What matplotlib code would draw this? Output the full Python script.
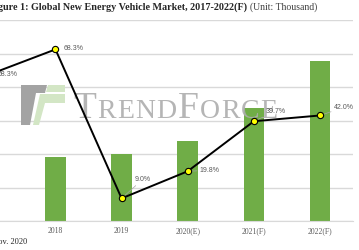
import matplotlib.pyplot as plt
from matplotlib.patches import Polygon

# Global NEV market, thousand units, plus yearly growth
years = ['2017', '2018', '2019', '2020(E)', '2021(F)', '2022(F)']
sales = [1200, 1910, 2010, 2390, 3370, 4780]
growth = [58.3, 68.3, 9.0, 19.8, 39.7, 42.0]

GREEN = '#70AD47'
GRID = '#D9D9D9'
LABEL = '#595959'

fig = plt.figure(figsize=(3.59, 2.5), dpi=100)
W, H = 359, 250


def px(x, y):
    # pixel (from top-left) -> figure fraction
    return x / W, 1 - y / H


# axes reaches past the left edge, like the cropped original
left, bottom = px(-43.7, 221)
right, top = px(353, 20)
ax = fig.add_axes([left, bottom, right - left, top - bottom])
xs = list(range(len(years)))
ax.bar(xs, sales, width=0.31, color=GREEN, zorder=2)
ax.set_xlim(-0.5, 5.5)
ax.set_ylim(0, 6000)
ax.set_yticks(range(0, 6001, 1000))
ax.yaxis.grid(True, color=GRID, lw=1, zorder=0)
ax.set_axisbelow(True)
ax.set_xticks(xs)
ax.set_xticklabels(years, fontfamily='Liberation Serif', fontsize=5.5, color=LABEL)
ax.get_xticklabels()[0].set_visible(False)  # lies off the picture anyway
ax.tick_params(axis='x', length=0, pad=4.3)
ax.tick_params(axis='y', left=False, labelleft=False)
for s in ['top', 'right', 'left']:
    ax.spines[s].set_visible(False)
ax.spines['bottom'].set_color(GRID)

# watermark logo
logo_gray = [(21, 85), (47, 85), (45, 93), (36, 93), (30, 125), (21, 125)]
logo_top = [(48, 85), (65, 85), (65, 92), (46, 92)]
logo_body = [(40, 94), (65, 94), (65, 103), (45, 103), (39, 125), (33, 125)]
for pts, col in [(logo_gray, '#A3A3A3'), (logo_top, '#D3E6C5'), (logo_body, '#D3E6C5')]:
    fig.add_artist(Polygon([px(*p) for p in pts], closed=True,
                           transform=fig.transFigure, color=col, lw=0, zorder=3))

# watermark text, letter by letter (small caps look)
fig.canvas.draw()
renderer = fig.canvas.get_renderer()
cur_x = 73
for ch, size in zip('TRENDFORCE', [27, 20, 20, 20, 20, 27, 20, 20, 20, 20]):
    t = fig.text(*px(cur_x, 118), ch, fontfamily='Liberation Serif', fontsize=size,
                 color='#ADADAD', alpha=0.9, va='baseline', ha='left', zorder=3)
    cur_x = t.get_window_extent(renderer).x1 + 1.2

# growth line on a secondary axis, drawn above the watermark
ax2 = ax.twinx()
ax2.set_zorder(5)
ax2.set_ylim(0, 80)
ax2.set_axis_off()
ax2.plot(xs, growth, color='black', lw=1.4, marker='o', markersize=4.5,
         markerfacecolor='#FFFF00', markeredgecolor='black', markeredgewidth=0.8, zorder=5)

offsets = [(5.8, 0), (5.8, 0.7), (9.4, 13.7), (8.6, 0.7), (8.6, 7.2), (10, 5.8)]
leaders = [False, False, True, True, True, True]
for x, g, off, lead in zip(xs, growth, offsets, leaders):
    props = dict(arrowstyle='-', color='#A6A6A6', lw=0.5, shrinkA=0, shrinkB=3) if lead else None
    ax2.annotate(f'{g:.1f}%', (x, g), xytext=off, textcoords='offset points',
                 ha='left', va='center', fontsize=5, fontfamily='Liberation Sans',
                 color=LABEL, arrowprops=props)

# title and source
fig.text(*px(247, 7), 'Figure 1: Global New Energy Vehicle Market, 2017-2022(F)',
         ha='right', va='center', fontfamily='Liberation Serif', fontweight='bold',
         fontsize=7.3, color='#262626')
fig.text(*px(250, 7), '(Unit: Thousand)', ha='left', va='center',
         fontfamily='Liberation Serif', fontsize=7, color='#404040')
fig.text(*px(27, 242), 'Source: TrendForce, Nov. 2020', ha='right', va='center',
         fontfamily='Liberation Serif', fontsize=6, color='#262626')

fig.savefig('out.png', dpi=100)
